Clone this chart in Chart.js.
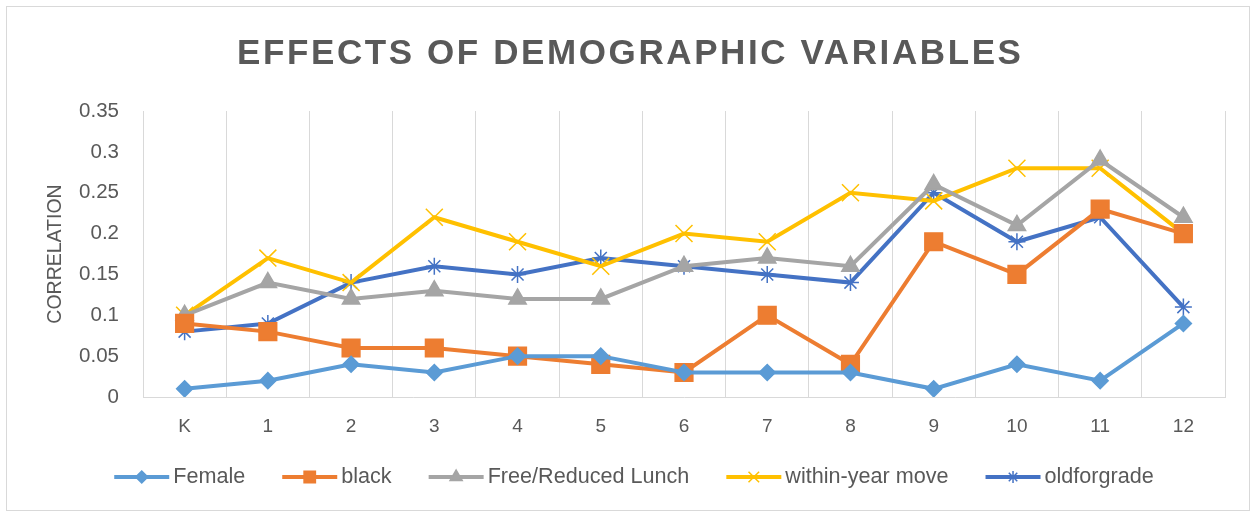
<!DOCTYPE html>
<html>
<head>
<meta charset="utf-8">
<script src="https://cdn.jsdelivr.net/npm/chart.js@4"></script>
<style>
  html, body { margin: 0; padding: 0; background: #fff; }
  #wrap { position: relative; width: 1253px; height: 512px; }
  #frame { position: absolute; left: 6px; top: 6px; right: 3px; bottom: 1px; border: 1px solid #d9d9d9; pointer-events: none; }
</style>
</head>
<body>
<div id="wrap">
  <canvas id="chart" width="1253" height="512"></canvas>
  <div id="frame"></div>
</div>
<script>
// Chart data
const grades = ['K', '1', '2', '3', '4', '5', '6', '7', '8', '9', '10', '11', '12'];
const female = [0.01, 0.02, 0.04, 0.03, 0.05, 0.05, 0.03, 0.03, 0.03, 0.01, 0.04, 0.02, 0.09];
const black = [0.09, 0.08, 0.06, 0.06, 0.05, 0.04, 0.03, 0.10, 0.04, 0.19, 0.15, 0.23, 0.20];
const freeLunch = [0.10, 0.14, 0.12, 0.13, 0.12, 0.12, 0.16, 0.17, 0.16, 0.26, 0.21, 0.29, 0.22];
const withinYearMove = [0.10, 0.17, 0.14, 0.22, 0.19, 0.16, 0.20, 0.19, 0.25, 0.24, 0.28, 0.28, 0.20];
const oldForGrade = [0.08, 0.09, 0.14, 0.16, 0.15, 0.17, 0.16, 0.15, 0.14, 0.25, 0.19, 0.22, 0.11];
const yTicks = [0, 0.05, 0.1, 0.15, 0.2, 0.25, 0.3, 0.35];

const FONT = "'Liberation Sans', Arial, sans-serif";
const TEXT = '#595959';

const series = [
  { label: 'Female', data: female, color: '#5B9BD5', style: 'rectRot', radius: 8, legendRadius: 6 },
  { label: 'black', data: black, color: '#ED7D31', style: 'rect', radius: 12.5, legendRadius: 8 },
  { label: 'Free/Reduced Lunch', data: freeLunch, color: '#A5A5A5', style: 'triangle', radius: 10, legendRadius: 7 },
  { label: 'within-year move', data: withinYearMove, color: '#FFC000', style: 'crossRot', radius: 12, legendRadius: 7.5 },
  { label: 'oldforgrade', data: oldForGrade, color: '#4472C4', style: 'star', radius: 8.5, legendRadius: 6 }
];

// Title with letter spacing
const titlePlugin = {
  id: 'bigTitle',
  afterDraw(chart) {
    const ctx = chart.ctx;
    ctx.save();
    ctx.font = 'bold 35px ' + FONT;
    ctx.fillStyle = TEXT;
    ctx.textAlign = 'left';
    ctx.textBaseline = 'middle';
    ctx.letterSpacing = '2.6px';
    const text = 'EFFECTS OF DEMOGRAPHIC VARIABLES';
    const w = ctx.measureText(text).width - 2.6;
    ctx.fillText(text, 629 - w / 2, 54);
    ctx.restore();
  }
};

// Legend: line + marker swatch, then label
const legendPlugin = {
  id: 'lineLegend',
  afterDraw(chart) {
    const ctx = chart.ctx;
    const swatchW = 55, gapText = 4, gapItem = 37, y = 477;
    ctx.save();
    ctx.font = '21.6px ' + FONT;
    const widths = series.map(s => swatchW + gapText + ctx.measureText(s.label).width);
    const total = widths.reduce((a, b) => a + b, 0) + gapItem * (series.length - 1);
    let x = 634 - total / 2;
    series.forEach((s, i) => {
      ctx.strokeStyle = s.color;
      ctx.fillStyle = s.color;
      ctx.lineWidth = 4;
      ctx.beginPath();
      ctx.moveTo(x, y);
      ctx.lineTo(x + swatchW, y);
      ctx.stroke();
      ctx.lineWidth = 1.5;
      Chart.helpers.drawPoint(ctx, { pointStyle: s.style, radius: s.legendRadius, borderWidth: 1.5, rotation: 0 }, x + swatchW / 2, y);
      ctx.fillStyle = TEXT;
      ctx.textAlign = 'left';
      ctx.textBaseline = 'middle';
      ctx.fillText(s.label, x + swatchW + gapText, y);
      x += widths[i] + gapItem;
    });
    ctx.restore();
  }
};

new Chart(document.getElementById('chart'), {
  type: 'line',
  data: {
    labels: grades,
    datasets: series.map(s => ({
      label: s.label,
      data: s.data,
      borderColor: s.color,
      backgroundColor: s.color,
      borderWidth: 4,
      pointStyle: s.style,
      pointRadius: s.radius,
      pointBorderWidth: 1.5,
      pointBackgroundColor: s.color,
      pointBorderColor: s.color,
      tension: 0
    }))
  },
  options: {
    responsive: false,
    animation: false,
    layout: {
      padding: { top: 111, left: 44, right: 28, bottom: 0 }
    },
    plugins: {
      title: { display: false },
      tooltip: { enabled: false },
      legend: { display: false }
    },
    scales: {
      x: {
        offset: true,
        grid: { display: true, offset: true, color: '#d9d9d9', lineWidth: 1, drawTicks: false },
        border: { display: true, color: '#d9d9d9', width: 1 },
        ticks: { color: TEXT, font: { family: FONT, size: 19 }, padding: 18, maxRotation: 0 },
        afterFit(scale) { scale.height = 115; }
      },
      y: {
        min: 0,
        max: 0.35,
        afterBuildTicks(scale) { scale.ticks = yTicks.map(v => ({ value: v })); },
        grid: { display: false, drawTicks: false },
        border: { display: false },
        ticks: {
          color: TEXT,
          font: { family: FONT, size: 20.5 },
          padding: 24,
          callback: v => String(Math.round(v * 100) / 100)
        },
        title: {
          display: true,
          text: 'CORRELATION',
          color: TEXT,
          font: { family: FONT, size: 19.5 },
          padding: 0
        },
        afterFit(scale) { scale.width = 143 - 44; }
      }
    }
  },
  plugins: [titlePlugin, legendPlugin]
});
</script>
</body>
</html>
